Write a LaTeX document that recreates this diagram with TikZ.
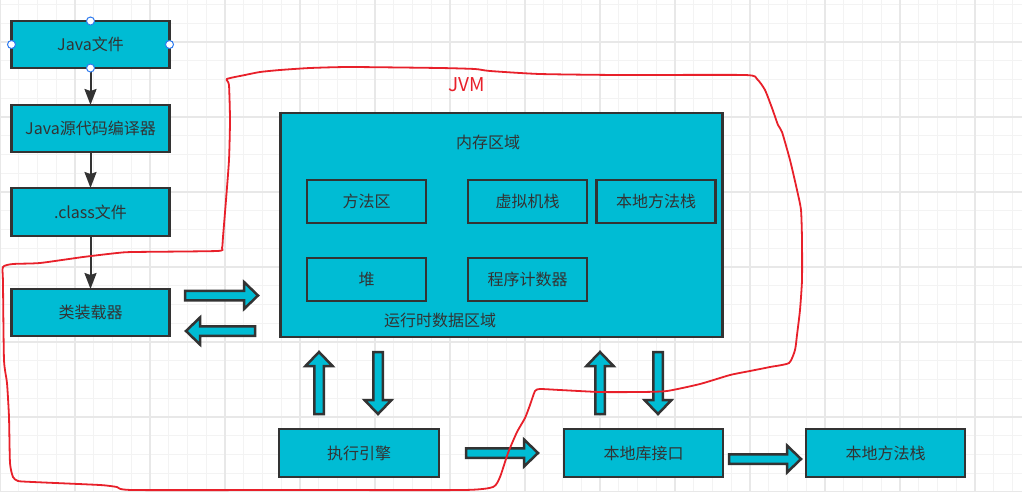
\documentclass[tikz,border=0pt]{standalone}
\usepackage{fontspec}
\setmainfont{Noto Sans CJK SC}
\usetikzlibrary{arrows.meta}
\definecolor{cyanfill}{HTML}{00BCD4}
\definecolor{boxline}{HTML}{333333}
\definecolor{txt}{HTML}{333333}
\definecolor{gridminor}{HTML}{F3F3F3}
\definecolor{gridmajor}{HTML}{E8E8E8}
\definecolor{jvmred}{HTML}{E8202A}
\definecolor{handle}{HTML}{2F7BEF}
\tikzset{
  box/.style={draw=boxline, line width=2.5pt, fill=cyanfill, text=txt,
    font=\fontsize{16}{19}\selectfont, inner sep=0pt, outer sep=0pt},
  flow/.style={draw=boxline, line width=2pt, -{Stealth[length=16pt,width=12pt,inset=2pt]}},
  barrow/.style={draw=boxline, line width=2.5pt, fill=cyanfill, line join=miter},
  lbl/.style={text=txt, font=\fontsize{16}{19}\selectfont, inner sep=0pt},
  handlept/.style={circle, draw=handle, fill=white, line width=1pt, minimum size=8pt, inner sep=0pt},
  gminor/.style={draw=gridminor, line width=1pt},
  gmajor/.style={draw=gridmajor, line width=1.5pt},
}
\newcommand{\blkarrow}[4]{%
  \begin{scope}[shift={(#1,#2)},rotate=#3]
    \draw[barrow] (0,-4.75) -- ({#4-14},-4.75) -- ({#4-14},-13.5) -- (#4,0)
      -- ({#4-14},13.5) -- ({#4-14},4.75) -- (0,4.75) -- cycle;
  \end{scope}}
\begin{document}
\begin{tikzpicture}[x=1pt,y=-1pt]
\useasboundingbox (0,0) rectangle (1022,491);
\fill[white] (0,0) rectangle (1022,491);
% grid
\foreach \k in {0,...,54} { \draw[gminor] ({\k*18.75},0) -- ({\k*18.75},491); }
\foreach \k in {0,...,26} { \draw[gminor] (0,{4.5+\k*18.75}) -- (1022,{4.5+\k*18.75}); }
\foreach \k in {0,...,13} { \draw[gmajor] ({\k*75},0) -- ({\k*75},491); }
\foreach \k in {0,...,6} { \draw[gmajor] (0,{42+\k*75}) -- (1022,{42+\k*75}); }

% left column
\node[box, minimum width=158pt, minimum height=47pt] (java) at (90.5,44.5) {Java文件};
\node[box, minimum width=158pt, minimum height=47pt] (comp) at (90.5,128.5) {Java源代码编译器};
\node[box, minimum width=158pt, minimum height=48pt] (cls) at (90.5,212) {.class文件};
\node[box, minimum width=158pt, minimum height=47pt] (loader) at (90.5,312.5) {类装载器};

\draw[flow] (java.south) -- (comp.north);
\draw[flow] (comp.south) -- (cls.north);
\draw[flow] (cls.south) -- (loader.north);

% memory area
\node[box, minimum width=442pt, minimum height=224pt] (mem) at (501.5,225) {};
\node[lbl] (memlbl) at (488,142) {内存区域};
\node[box, minimum width=119pt, minimum height=43pt] (method) at (366.5,201.5) {方法区};
\node[box, minimum width=119pt, minimum height=43pt] (vmstack) at (527.5,201.5) {虚拟机栈};
\node[box, minimum width=119pt, minimum height=43pt] (nstack) at (656,201.5) {本地方法栈};
\node[box, minimum width=119pt, minimum height=43pt] (heap) at (366.5,279.5) {堆};
\node[box, minimum width=119pt, minimum height=43pt] (pc) at (527.5,279.5) {程序计数器};
\node[lbl] (rtlbl) at (440,320) {运行时数据区域};

% bottom row
\node[box, minimum width=160pt, minimum height=48pt] (exec) at (359,453) {执行引擎};
\node[box, minimum width=159pt, minimum height=48pt] (nlib) at (643.5,453) {本地库接口};
\node[box, minimum width=159pt, minimum height=48pt] (nms) at (885.5,453) {本地方法栈};

% block arrows
\blkarrow{185}{295.5}{0}{73}
\blkarrow{255}{331}{180}{69}
\blkarrow{319}{414}{90}{62}
\blkarrow{378}{352}{-90}{62}
\blkarrow{466}{453}{0}{72}
\blkarrow{600}{414}{90}{62}
\blkarrow{658}{352}{-90}{62}
\blkarrow{729}{459}{0}{72}

% selection handles
\node[handlept] (h1) at (java.north) {};
\node[handlept] (h2) at (java.south) {};
\node[handlept] (h3) at (java.west) {};
\node[handlept] (h4) at (java.east) {};

% JVM boundary
\draw[jvmred, line width=1.8pt] plot[smooth cycle, tension=0.35] coordinates {
 (227,79) (245,75) (260,72) (280,70) (310,68) (350,67) (440,68) (475,69) (490,71)
 (540,74) (620,75) (745,75) (757,79) (765,90) (772,108) (778,125) (782,132)
 (790,160) (797,190) (801,210) (802,240) (802,280) (800,310) (797,335) (795,350)
 (789,363) (770,367) (750,371) (730,375) (700,384) (667,391) (640,392) (600,392)
 (560,390) (540,389) (535,391) (530,405) (525,418) (517,432) (508,453) (500,477)
 (493,487) (463,490) (300,490) (133,490) (117,487) (100,485) (33,482) (18,481)
 (13,477) (10,463) (9,417) (7,383) (4,360) (3,283) (3,267) (13,264) (40,263)
 (83,257) (117,253) (133,252) (217,251) (222,248) (223,237) (226,200) (229,160)
 (230,120) (229,85)};
\node[text=jvmred, font=\fontsize{19}{22}\selectfont, inner sep=0pt] (jvm) at (467,85) {JVM};
\end{tikzpicture}
\end{document}
